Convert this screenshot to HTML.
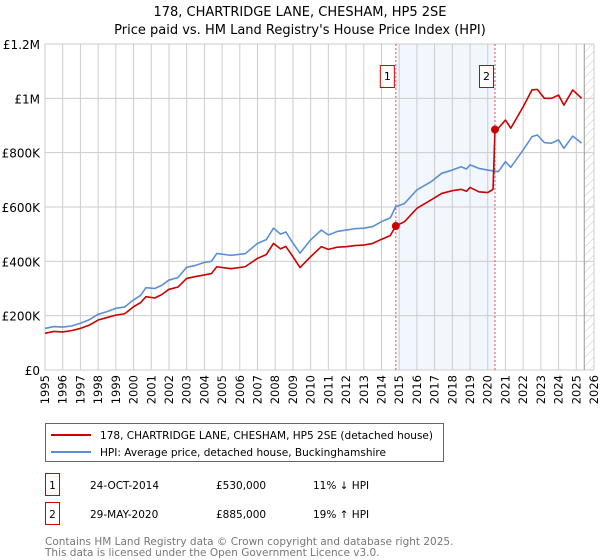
<!DOCTYPE html>
<html><head><meta charset="utf-8">
<style>
body{margin:0;background:#fff;font-family:"DejaVu Sans","Liberation Sans",sans-serif;}
#wrap{position:relative;width:600px;height:560px;overflow:hidden;}
svg{position:absolute;left:0;top:0;}
</style></head><body>
<div id="wrap">
<svg id="chart" width="600" height="560" font-family="DejaVu Sans, Liberation Sans, sans-serif"></svg>
</div>
<script>
const yTicks=[0,200000,400000,600000,800000,1000000,1200000];
const yTickLabels=["£0","£200K","£400K","£600K","£800K","£1M","£1.2M"];
const xYears=[1995,1996,1997,1998,1999,2000,2001,2002,2003,2004,2005,2006,2007,2008,2009,2010,2011,2012,2013,2014,2015,2016,2017,2018,2019,2020,2021,2022,2023,2024,2025,2026];
const hpiDates=[1995,1995.5,1996,1996.5,1997,1997.5,1998,1998.5,1999,1999.5,2000,2000.4,2000.7,2001.2,2001.6,2002,2002.5,2003,2003.5,2004,2004.4,2004.7,2005.5,2006.3,2007,2007.5,2007.9,2008.3,2008.6,2009,2009.4,2010,2010.6,2011,2011.5,2012,2012.5,2013,2013.5,2014,2014.5,2014.8,2015.3,2016,2016.8,2017.4,2018,2018.5,2018.8,2019,2019.5,2020,2020.6,2021,2021.3,2022,2022.5,2022.8,2023.2,2023.6,2024,2024.3,2024.8,2025.3];
const hpiValues=[153000,160000,158000,162000,172000,185000,205000,215000,227000,232000,258000,275000,303000,300000,312000,331000,340000,378000,385000,396000,400000,429000,422000,428000,466000,480000,522000,500000,508000,467000,430000,479000,515000,497000,510000,515000,520000,522000,528000,546000,560000,601000,613000,663000,693000,724000,736000,748000,740000,755000,742000,736000,730000,767000,746000,810000,859000,865000,837000,835000,847000,816000,861000,835000];
const paidDates=[1995,1995.5,1996,1996.5,1997,1997.5,1998,1998.5,1999,1999.5,2000,2000.4,2000.7,2001.2,2001.6,2002,2002.5,2003,2003.5,2004,2004.4,2004.7,2005.5,2006.3,2007,2007.5,2007.9,2008.3,2008.6,2009,2009.4,2010,2010.6,2011,2011.5,2012,2012.5,2013,2013.5,2014,2014.5,2014.8,2015.3,2016,2016.8,2017.4,2018,2018.5,2018.8,2019,2019.5,2020,2020.3,2020.41,2020.6,2021,2021.3,2022,2022.5,2022.8,2023.2,2023.6,2024,2024.3,2024.8,2025.3];
const paidValues=[135000,142000,140000,145000,153000,165000,184000,193000,202000,207000,233000,248000,270000,265000,278000,297000,305000,337000,344000,350000,355000,380000,373000,380000,411000,425000,466000,446000,455000,417000,377000,417000,454000,444000,452000,454000,458000,460000,466000,481000,495000,530000,546000,595000,626000,650000,660000,665000,658000,672000,656000,653000,665000,885000,890000,920000,890000,969000,1031000,1033000,1000000,1000000,1012000,975000,1031000,1000000];
const saleDates=[2014.81,2020.41];
const saleValues=[530000,885000];
const saleLabels=["1","2"];

const NS="http://www.w3.org/2000/svg";
const svg=document.getElementById('chart');
const L=45,R=594,T=44,B=370,X0=1995,X1=2026,YMAX=1200000;
const xs=v=>L+(v-X0)/(X1-X0)*(R-L);
const ys=v=>B-v/YMAX*(B-T);
function mk(tag,attrs,parent){const e=document.createElementNS(NS,tag);for(const k in attrs)e.setAttribute(k,attrs[k]);(parent||svg).appendChild(e);return e;}

const defs=mk('defs',{});
const pat=mk('pattern',{id:'hatch',width:6,height:6,patternUnits:'userSpaceOnUse',patternTransform:'rotate(45)'},defs);
mk('line',{x1:0,y1:0,x2:0,y2:6,stroke:'#bbb','stroke-width':0.8},pat);

let t=mk('text',{x:300,y:16,'text-anchor':'middle','font-size':13,fill:'#000'});t.textContent='178, CHARTRIDGE LANE, CHESHAM, HP5 2SE';

t=mk('text',{x:300,y:34,'text-anchor':'middle','font-size':13,fill:'#000'});t.textContent="Price paid vs. HM Land Registry's House Price Index (HPI)";


let sh=mk('rect',{x:xs(saleDates[0]),y:T,width:xs(saleDates[1])-xs(saleDates[0]),height:B-T,fill:'#edf2fc',opacity:0.7});

let hx=mk('rect',{x:xs(2025.45),y:T,width:R-xs(2025.45),height:B-T,fill:'url(#hatch)'});


xYears.forEach(y=>{const l=mk('line',{x1:xs(y),x2:xs(y),y1:T,y2:B,stroke:'#ccc','stroke-width':1});

const tx=mk('text',{transform:`translate(${xs(y)+4},375) rotate(-90)`,'text-anchor':'end','font-size':11.5,fill:'#000'});tx.textContent=y;
});
yTicks.forEach((v,i)=>{const l=mk('line',{x1:L,x2:R,y1:ys(v),y2:ys(v),stroke:'#ccc','stroke-width':1});

const tx=mk('text',{x:40,y:ys(v)+5,'text-anchor':'end','font-size':12,fill:'#000'});tx.textContent=yTickLabels[i];
});
let vl=mk('line',{x1:xs(2025.45),x2:xs(2025.45),y1:T,y2:B,stroke:'#999','stroke-width':1});


saleDates.forEach((d,i)=>{const l=mk('line',{x1:xs(d),x2:xs(d),y1:T,y2:B,stroke:'#e05050','stroke-width':1,'stroke-dasharray':'2,2'});

const r=mk('rect',{x:xs(d)-15.5,y:65.5,width:14,height:22,fill:'#fff',stroke:'#cc0000','stroke-width':1});

const tx=mk('text',{x:xs(d)-8.5,y:80,'text-anchor':'middle','font-size':11,fill:'#000'});tx.textContent=saleLabels[i];
});

const hp=mk('polyline',{points:hpiDates.map((d,i)=>xs(d)+','+ys(hpiValues[i])).join(' '),fill:'none',stroke:'#5b8fd4','stroke-width':1.6,'stroke-linejoin':'round'});

const pp=mk('polyline',{points:paidDates.map((d,i)=>xs(d)+','+ys(paidValues[i])).join(' '),fill:'none',stroke:'#cc0000','stroke-width':1.6,'stroke-linejoin':'round'});

saleDates.forEach((d,i)=>{const c=mk('circle',{cx:xs(d),cy:ys(saleValues[i]),r:4,fill:'#cc0000'});
});

const lg=mk('g',{});
mk('rect',{x:45.5,y:423.5,width:398,height:38,fill:'#fff',stroke:'#666','stroke-width':1},lg);
mk('line',{x1:51,x2:91,y1:435,y2:435,stroke:'#cc0000','stroke-width':2},lg);
let e=mk('text',{x:100,y:439,'font-size':10.5,fill:'#000',textLength:333,lengthAdjust:'spacingAndGlyphs'},lg);e.textContent='178, CHARTRIDGE LANE, CHESHAM, HP5 2SE (detached house)';

mk('line',{x1:51,x2:91,y1:452,y2:452,stroke:'#5b8fd4','stroke-width':2},lg);
e=mk('text',{x:100,y:456,'font-size':10.5,fill:'#000',textLength:286,lengthAdjust:'spacingAndGlyphs'},lg);e.textContent='HPI: Average price, detached house, Buckinghamshire';


const rows=[["1","24-OCT-2014","£530,000","11% ↓ HPI",485],["2","29-MAY-2020","£885,000","19% ↑ HPI",514]];
rows.forEach(r=>{const y=r[4];
const b=mk('rect',{x:45.5,y:y-11.5,width:14,height:22,fill:'#fff',stroke:'#cc0000','stroke-width':1});

[[r[0],52.5,'middle'],[r[1],90,'start'],[r[2],216,'start'],[r[3],313,'start']].forEach(c=>{
const tx=mk('text',{x:c[1],y:y+4,'font-size':10.5,fill:'#000','text-anchor':c[2]});tx.textContent=c[0];
});});
e=mk('text',{x:45,y:545,'font-size':10.5,fill:'#777'});e.textContent='Contains HM Land Registry data © Crown copyright and database right 2025.';

e=mk('text',{x:45,y:556,'font-size':10.5,fill:'#777'});e.textContent='This data is licensed under the Open Government Licence v3.0.';

</script>
</body></html>
